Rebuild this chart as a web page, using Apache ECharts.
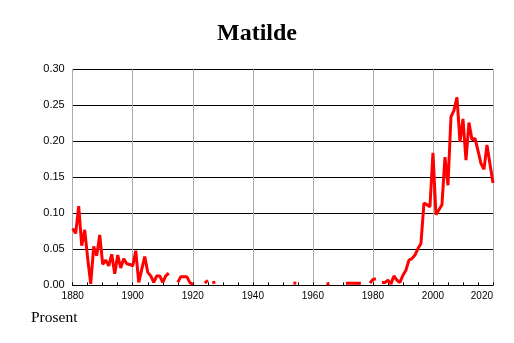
<!DOCTYPE html>
<html>
<head>
<meta charset="utf-8">
<script src="https://cdn.jsdelivr.net/npm/echarts@6/dist/echarts.min.js"></script>
<style>
  html, body { margin: 0; padding: 0; background: #fff; }
  #chart { width: 514px; height: 343px; }
</style>
</head>
<body>
<div id="chart"></div>
<script>
// Share of newborns given the name, per year (null = no data / too few)
const years = [
  1880, 1881, 1882, 1883, 1884, 1885, 1886, 1887, 1888, 1889,
  1890, 1891, 1892, 1893, 1894, 1895, 1896, 1897, 1898, 1899,
  1900, 1901, 1902, 1903, 1904, 1905, 1906, 1907, 1908, 1909,
  1910, 1911, 1912, 1913, 1914, 1915, 1916, 1917, 1918, 1919,
  1920, 1921, 1922, 1923, 1924, 1925, 1926, 1927, 1928, 1929,
  1930, 1931, 1932, 1933, 1934, 1935, 1936, 1937, 1938, 1939,
  1940, 1941, 1942, 1943, 1944, 1945, 1946, 1947, 1948, 1949,
  1950, 1951, 1952, 1953, 1954, 1955, 1956, 1957, 1958, 1959,
  1960, 1961, 1962, 1963, 1964, 1965, 1966, 1967, 1968, 1969,
  1970, 1971, 1972, 1973, 1974, 1975, 1976, 1977, 1978, 1979,
  1980, 1981, 1982, 1983, 1984, 1985, 1986, 1987, 1988, 1989,
  1990, 1991, 1992, 1993, 1994, 1995, 1996, 1997, 1998, 1999,
  2000, 2001, 2002, 2003, 2004, 2005, 2006, 2007, 2008, 2009,
  2010, 2011, 2012, 2013, 2014, 2015, 2016, 2017, 2018, 2019,
  2020
];
const shares = [
  0.079, 0.072, 0.110, 0.055, 0.077, 0.037, 0.002, 0.054, 0.041, 0.070,
  0.029, 0.035, 0.027, 0.043, 0.016, 0.042, 0.024, 0.037, 0.030, 0.029,
  0.027, 0.048, 0.004, 0.022, 0.040, 0.018, 0.013, 0.004, 0.013, 0.013,
  0.004, 0.013, 0.017, null, null, 0.004, 0.012, 0.012, 0.012, 0.004,
  0.001, null, null, null, 0.003, 0.007, null, 0.004, null, null,
  null, null, null, null, null, null, null, null, null, null,
  null, null, null, null, null, null, null, null, null, null,
  null, null, null, null, 0.003, null, null, null, null, null,
  null, null, null, null, null, 0.002, null, null, null, null,
  null, 0.003, 0.003, 0.003, 0.003, 0.003, 0.003, null, null, 0.003,
  0.008, 0.009, null, 0.004, 0.004, 0.007, 0.002, 0.013, 0.007, 0.004,
  0.014, 0.021, 0.035, 0.037, 0.042, 0.051, 0.058, 0.114, 0.112, 0.109,
  0.184, 0.098, 0.105, 0.112, 0.178, 0.139, 0.234, 0.243, 0.261, 0.199,
  0.231, 0.174, 0.226, 0.202, 0.204, 0.187, 0.169, 0.161, 0.195, 0.168,
  0.142
];
const yearTicks = [1880, 1900, 1920, 1940, 1960, 1980, 2000, 2020];
const shareTicks = [0, 0.05, 0.10, 0.15, 0.20, 0.25, 0.30];

const chartTitle = 'Matilde';
const unitLabel = 'Prosent';

// A year with no neighbours would not show as a line, so mark it with a small square
const seriesData = years.map(function (y, i) {
  const v = shares[i];
  const lonely = v != null &&
    (i === 0 || shares[i - 1] == null) &&
    (i === shares.length - 1 || shares[i + 1] == null);
  return {
    value: [y, v],
    symbol: lonely ? 'rect' : 'none',
    symbolSize: lonely ? 3 : 0
  };
});

const chart = echarts.init(document.getElementById('chart'), null, { renderer: 'canvas' });
chart.setOption({
  animation: false,
  backgroundColor: '#ffffff',
  title: {
    text: chartTitle,
    left: 'center',
    top: 17,
    textStyle: {
      fontFamily: 'Liberation Serif',
      fontWeight: 'bold',
      fontSize: 24,
      color: '#000'
    }
  },
  grid: { left: 72.7, right: 21, top: 69.3, bottom: 57.7, containLabel: false },
  xAxis: {
    type: 'value',
    min: yearTicks[0],
    max: yearTicks[yearTicks.length - 1],
    interval: yearTicks[1] - yearTicks[0],
    axisLine: { show: true, lineStyle: { color: '#000', width: 1 } },
    axisTick: { show: true, inside: true, length: 3, lineStyle: { color: '#000' } },
    minorTick: { show: true, splitNumber: 4, length: 3, lineStyle: { color: '#000' } },
    splitLine: { show: true, lineStyle: { color: '#aaaaaa', width: 1 } },
    axisLabel: {
      fontFamily: 'Liberation Sans',
      fontSize: 10,
      color: '#000',
      margin: 6,
      alignMaxLabel: 'right',
      formatter: function (v) { return String(v); }
    }
  },
  yAxis: {
    type: 'value',
    min: shareTicks[0],
    max: shareTicks[shareTicks.length - 1],
    interval: shareTicks[1] - shareTicks[0],
    axisLine: { show: true, lineStyle: { color: '#aaaaaa', width: 1 } },
    axisTick: { show: false },
    splitLine: { show: true, lineStyle: { color: '#000', width: 1 } },
    axisLabel: {
      fontFamily: 'Liberation Sans',
      fontSize: 11,
      color: '#000',
      margin: 8,
      formatter: function (v) { return v.toFixed(2); }
    }
  },
  series: [{
    type: 'line',
    data: seriesData,
    connectNulls: false,
    showSymbol: true,
    itemStyle: { color: '#ff0000' },
    lineStyle: { color: '#ff0000', width: 3 },
    silent: true
  }],
  graphic: [{
    type: 'text',
    left: 31,
    top: 310,
    style: {
      text: unitLabel,
      font: '15.5px "Liberation Serif"',
      fill: '#000'
    }
  }]
});
</script>
</body>
</html>
